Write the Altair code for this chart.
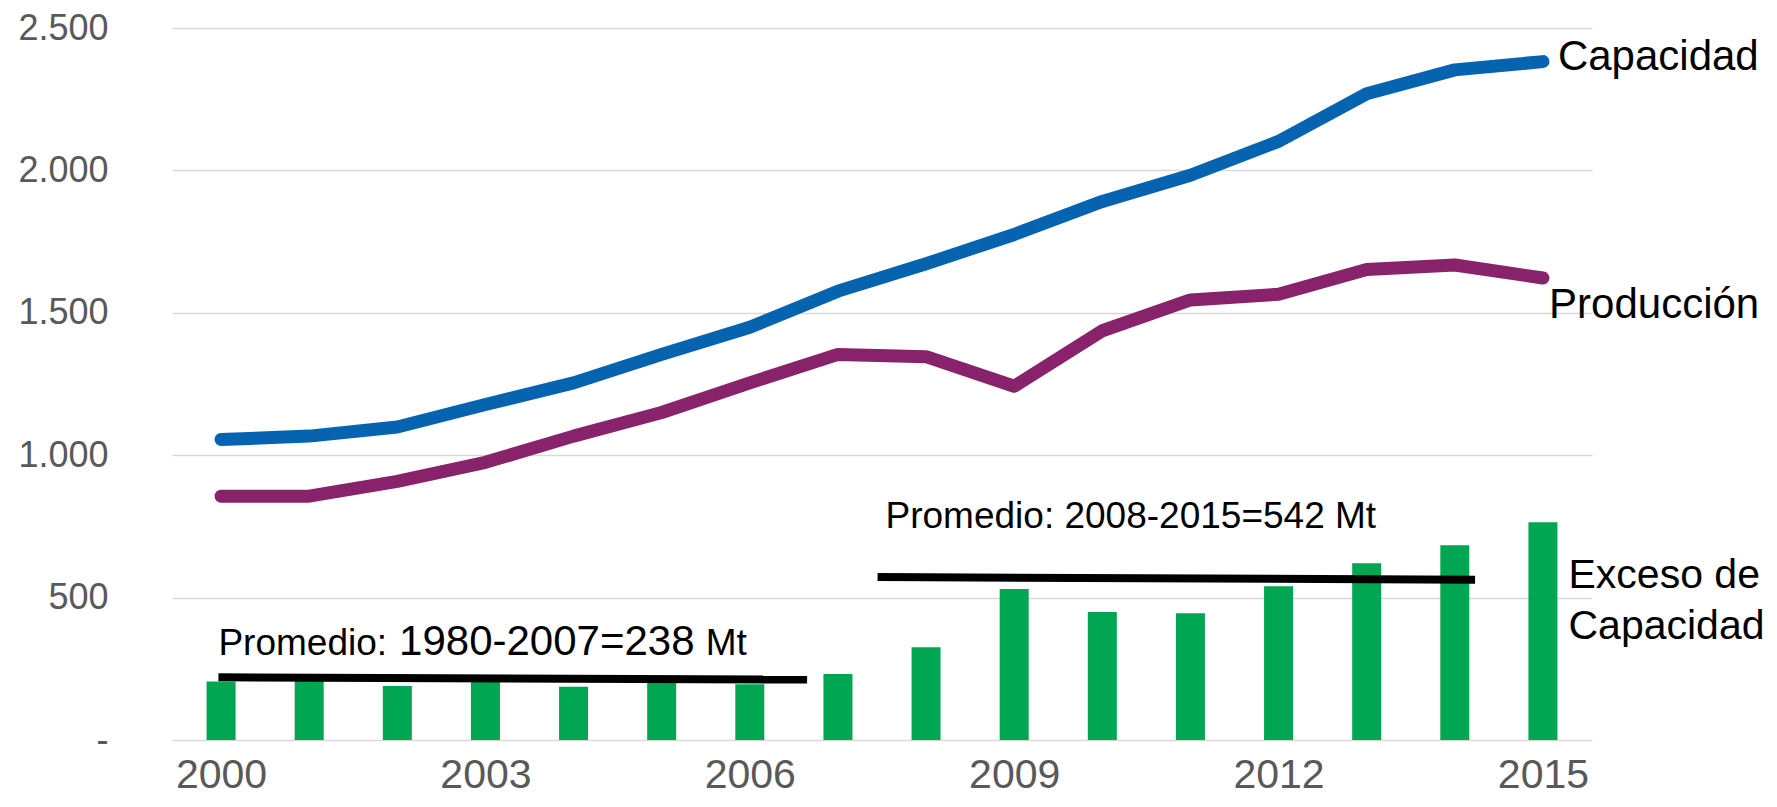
import altair as alt
import pandas as pd

years = list(range(2000, 2016))
capacidad = [1055, 1067, 1099, 1178, 1254, 1354, 1449, 1576, 1672, 1775, 1891, 1983, 2102, 2269, 2353, 2382]
produccion = [856, 856, 908, 975, 1067, 1150, 1254, 1354, 1346, 1242, 1437, 1545, 1565, 1652, 1668, 1622]
exceso = [205, 213, 190, 214, 187, 213, 196, 232, 326, 530, 449, 445, 540, 621, 684, 765]

avg_x1 = [1999.97, 2007.45]
avg_x2 = [2006.65, 2014.23]
avg_y1 = [220, 572]
avg_y2 = [212, 563]

label_text = ["Capacidad", "Producción", "Exceso de", "Capacidad",
              "Promedio:", "1980-2007=238", "Mt", "Promedio: 2008-2015=542 Mt"]
label_x = [2015.17, 2015.07, 2015.29, 2015.29, 1999.97, 2002.02, 2005.5, 2007.54]
label_y = [2352, 1482, 534, 355, 298, 298, 298, 744]
label_size = [42, 42, 41, 41, 37, 42, 37, 37]

FONT = "Liberation Sans"

df = pd.DataFrame({"year": years, "cap": capacidad, "prod": produccion, "exc": exceso})
df_long = pd.concat([
    pd.DataFrame({"year": years, "val": capacidad, "serie": "Capacidad"}),
    pd.DataFrame({"year": years, "val": produccion, "serie": "Producción"}),
])
df_avg = pd.DataFrame({"x1": avg_x1, "x2": avg_x2, "y1": avg_y1, "y2": avg_y2})
df_lab = pd.DataFrame({"x": label_x, "y": label_y, "t": label_text, "s": label_size})

xscale = alt.Scale(domain=[1999.5, 2015.5], nice=False, zero=False)
yscale = alt.Scale(domain=[0, 2500], nice=False)

xaxis = alt.Axis(values=[2000, 2003, 2006, 2009, 2012, 2015], format="d", grid=False,
                 domain=False, ticks=False, labelFontSize=41, labelColor="#595959",
                 labelFont=FONT, labelPadding=47, labelBaseline="alphabetic", title=None)
yaxis = alt.Axis(values=[0, 500, 1000, 1500, 2000, 2500], grid=True, gridColor="#d9d9d9",
                 gridWidth=1.5, domain=False, ticks=False, labelFontSize=36,
                 labelColor="#595959", labelFont=FONT, labelPadding=64,
                 labelExpr="datum.value == 0 ? '-' : replace(format(datum.value, ','), ',', '.')",
                 title=None)

bars = alt.Chart(df).mark_bar(size=29, color="#00A651").encode(
    x=alt.X("year:Q", scale=xscale, axis=xaxis),
    y=alt.Y("exc:Q", scale=yscale, axis=yaxis),
)

avg = alt.Chart(df_avg).mark_rule(color="black", strokeWidth=8, strokeCap="butt").encode(
    x=alt.X("x1:Q", scale=xscale), x2="x2:Q",
    y=alt.Y("y1:Q", scale=yscale), y2="y2:Q",
)

lines = alt.Chart(df_long).mark_line(strokeWidth=13, strokeCap="round", strokeJoin="round").encode(
    x=alt.X("year:Q", scale=xscale),
    y=alt.Y("val:Q", scale=yscale),
    color=alt.Color("serie:N", scale=alt.Scale(domain=["Capacidad", "Producción"],
                                               range=["#0563AF", "#87226B"]), legend=None),
)

labels = alt.Chart(df_lab).mark_text(align="left", baseline="alphabetic", font=FONT,
                                     color="black").encode(
    x=alt.X("x:Q", scale=xscale),
    y=alt.Y("y:Q", scale=yscale),
    text="t:N",
    size=alt.Size("s:Q", scale=None, legend=None),
)

chart = alt.layer(bars, avg, lines, labels).properties(
    width=1420, height=712,
    padding={"left": 164, "top": 20, "right": 177, "bottom": 59},
    autosize="none",
).configure_view(stroke=None)

chart.save("out.html", embed_options={"renderer": "svg", "actions": False})
